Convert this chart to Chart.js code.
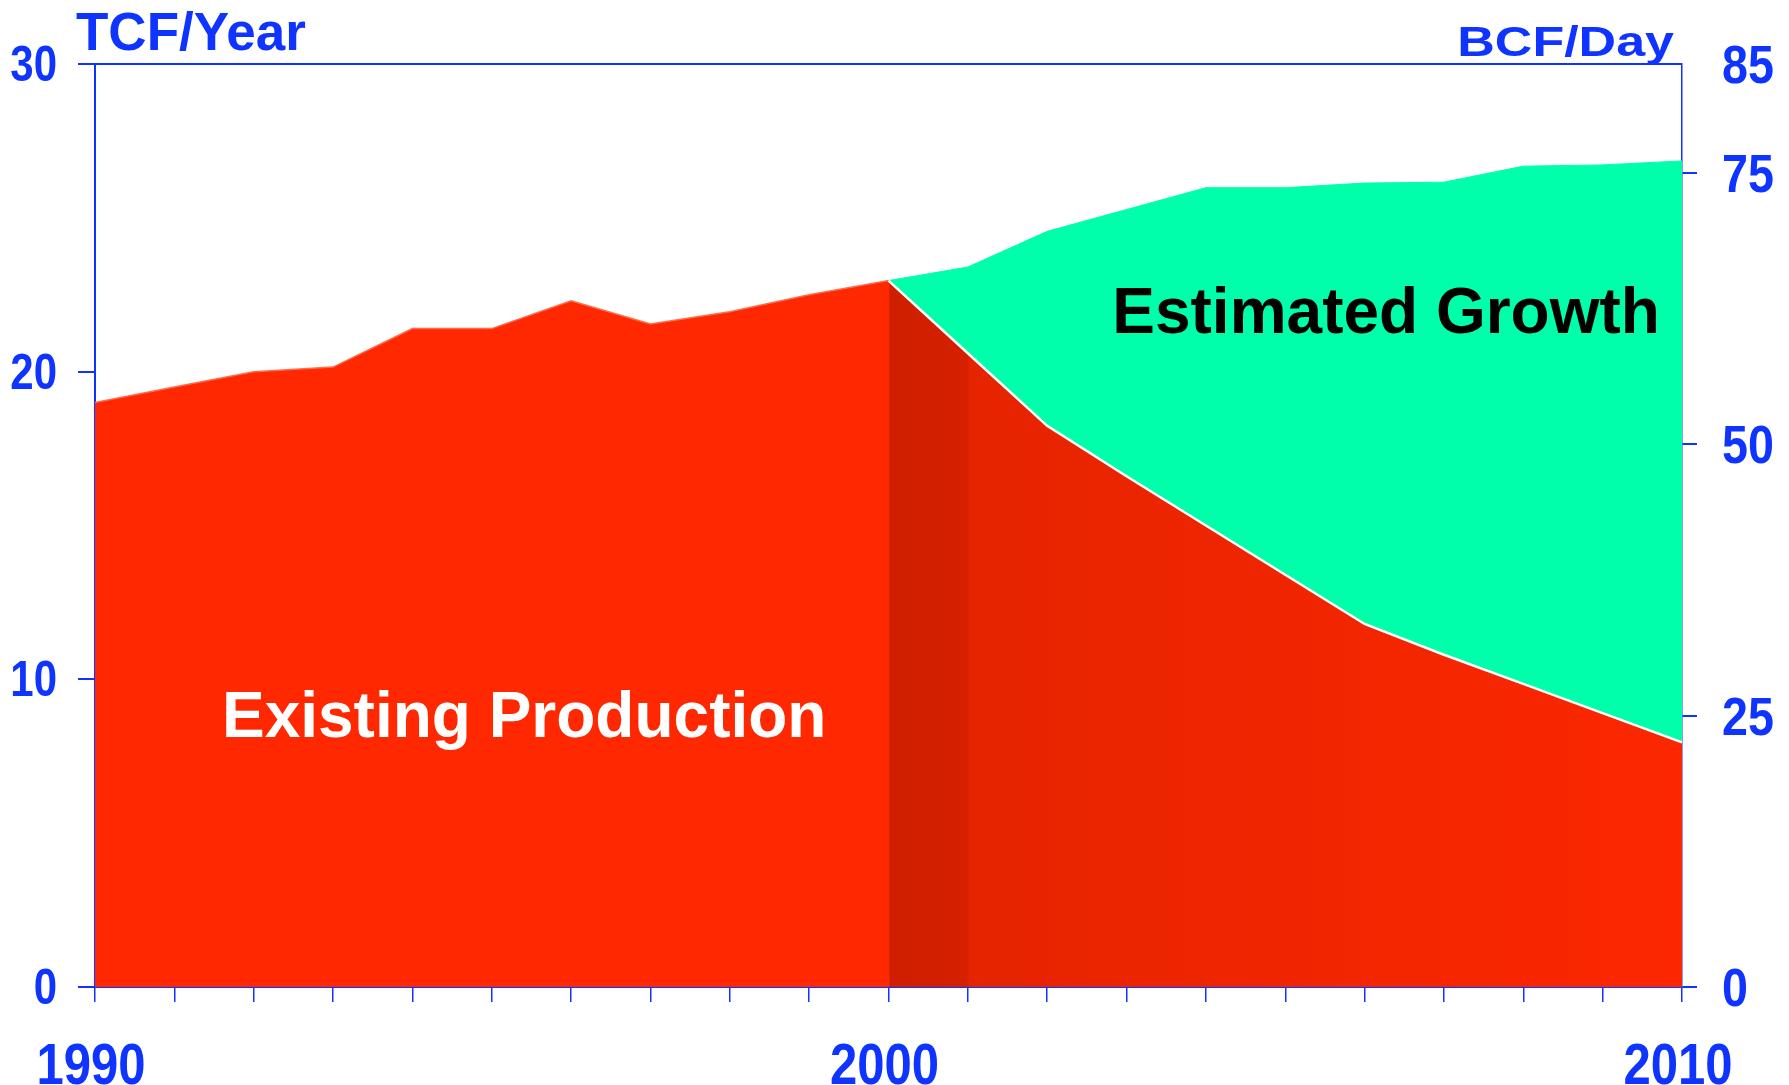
<!DOCTYPE html>
<html>
<head>
    <meta charset="utf-8">
    <script src="https://cdn.jsdelivr.net/npm/chart.js"></script>
    <style>
        html, body { margin: 0; padding: 0; background: #ffffff; overflow: hidden; }
        canvas { display: block; }
    </style>
    <script>
        // years on the x axis, every year gets a tick, only some get a label
        const years = [1990, 1991, 1992, 1993, 1994, 1995, 1996, 1997, 1998, 1999, 2000,
                       2001, 2002, 2003, 2004, 2005, 2006, 2007, 2008, 2009, 2010];
        const yearLabels = [1990, 2000, 2010];

        // TCF/Year
        const existingProduction = [19.0, 19.5, 20.0, 20.15, 21.4, 21.4, 22.3, 21.55, 21.95, 22.5, 22.96,
                                    20.6, 18.24, 16.6, 15.0, 13.4, 11.8, 10.8, 9.85, 8.9, 7.95];
        // existing + estimated growth (top of the green area)
        const totalWithGrowth = [null, null, null, null, null, null, null, null, null, null, 22.96,
                                 23.4, 24.56, 25.27, 25.98, 25.98, 26.13, 26.16, 26.68, 26.72, 26.85];

        const leftTicks = [0, 10, 20, 30];
        const rightTicks = [0, 25, 50, 75, 85];

        const BLUE = '#1034FF';
        const SANS = "'Liberation Sans', Arial, Helvetica, sans-serif";

        window.onload = function () {
            const pts = (arr) => years.map((yr, i) => ({ x: yr, y: arr[i] }));
            // same values, only from 2000 on: the white edge between red and green
            const forecastEdge = years.map((yr, i) => ({ x: yr, y: yr >= 2000 ? existingProduction[i] : null }));

            function redFill(c) {
                const chart = c.chart;
                const area = chart.chartArea;
                if (!area) return '#FF2800';
                const x = chart.scales.x;
                const g = chart.ctx.createLinearGradient(area.left, 0, area.right, 0);
                const p = (v) => (x.getPixelForValue(v) - area.left) / (area.right - area.left);
                g.addColorStop(0, '#FF2800');
                g.addColorStop(p(2000), '#FF2800');
                g.addColorStop(p(2000) + 0.001, '#CF1E00');
                g.addColorStop(p(2001), '#D62000');
                g.addColorStop(p(2001) + 0.001, '#E62400');
                g.addColorStop(1, '#FC2700');
                return g;
            }

            // condensed bold labels (no narrow face installed, so squeeze a bold one)
            function squeezedText(ctx, text, x, y, size, sx, sy, align) {
                ctx.save();
                ctx.translate(x, y);
                ctx.scale(sx, sy);
                ctx.font = 'bold ' + size + 'px ' + SANS;
                ctx.textAlign = align;
                ctx.textBaseline = 'alphabetic';
                ctx.fillText(text, 0, 0);
                ctx.restore();
            }

            const overlay = {
                id: 'overlay',
                afterDraw(chart) {
                    const { ctx, chartArea, scales } = chart;
                    ctx.save();
                    // top frame line
                    ctx.strokeStyle = BLUE;
                    ctx.lineWidth = 2;
                    ctx.beginPath();
                    ctx.moveTo(chartArea.left - 17, chartArea.top);
                    ctx.lineTo(chartArea.right, chartArea.top);
                    ctx.stroke();

                    ctx.fillStyle = BLUE;
                    // tick labels
                    scales.y.ticks.forEach((t) => {
                        squeezedText(ctx, String(t.value), 57, scales.y.getPixelForValue(t.value) + 17, 50, 0.84, 1, 'right');
                    });
                    scales.y2.ticks.forEach((t) => {
                        squeezedText(ctx, String(t.value), 1722, scales.y2.getPixelForValue(t.value) + 19, 53, 0.88, 1, 'left');
                    });
                    scales.x.ticks.forEach((t) => {
                        if (yearLabels.includes(t.value)) {
                            squeezedText(ctx, String(t.value), scales.x.getPixelForValue(t.value) - 4, 1084, 57, 0.86, 1, 'center');
                        }
                    });

                    // unit titles
                    squeezedText(ctx, 'TCF/Year', 76, 50, 53, 1, 1, 'left');
                    squeezedText(ctx, 'BCF/Day', chartArea.right - 8, 56, 52, 1, 0.83, 'right');

                    // area captions
                    ctx.font = 'bold 64px ' + SANS;
                    ctx.textAlign = 'left';
                    ctx.textBaseline = 'alphabetic';
                    ctx.fillStyle = '#FFFFFF';
                    ctx.fillText('Existing Production', scales.x.getPixelForValue(1991.6), scales.y.getPixelForValue(8.12));
                    ctx.fillStyle = '#000000';
                    ctx.fillText('Estimated Growth', scales.x.getPixelForValue(2002.82), scales.y.getPixelForValue(21.25));
                    ctx.restore();
                }
            };

            const config = {
                type: 'line',
                data: {
                    datasets: [{
                        label: 'Forecast edge',
                        data: forecastEdge,
                        fill: false,
                        borderColor: '#FFFFFF',
                        borderWidth: 2.5,
                        pointRadius: 0,
                        tension: 0
                    }, {
                        label: 'Existing Production',
                        data: pts(existingProduction),
                        fill: 'origin',
                        backgroundColor: redFill,
                        borderWidth: 1.5,
                        borderColor: '#FF6A4A',
                        pointRadius: 0,
                        tension: 0
                    }, {
                        label: 'Estimated Growth',
                        data: pts(totalWithGrowth),
                        fill: { target: 1 },
                        backgroundColor: '#00FFAA',
                        borderColor: '#00FFAA',
                        borderWidth: 1,
                        pointRadius: 0,
                        tension: 0
                    }]
                },
                options: {
                    responsive: false,
                    animation: false,
                    devicePixelRatio: 1,
                    layout: { padding: { top: 64, left: 0, right: 0, bottom: 0 } },
                    plugins: {
                        legend: { display: false },
                        tooltip: { enabled: false }
                    },
                    scales: {
                        x: {
                            type: 'linear',
                            min: 1990,
                            max: 2010,
                            afterBuildTicks: (s) => { s.ticks = years.map((v) => ({ value: v })); },
                            afterFit: (s) => { s.height = 98; },
                            ticks: { display: false, autoSkip: false },
                            grid: { drawOnChartArea: false, tickLength: 15, color: BLUE, lineWidth: 1.5 },
                            border: { color: BLUE, width: 2 }
                        },
                        y: {
                            position: 'left',
                            min: 0,
                            max: 30,
                            afterBuildTicks: (s) => { s.ticks = leftTicks.map((v) => ({ value: v })); },
                            afterFit: (s) => { s.width = 95; },
                            ticks: { display: false },
                            grid: { drawOnChartArea: false, tickLength: 17, color: BLUE, lineWidth: 2 },
                            border: { color: BLUE, width: 2 }
                        },
                        y2: {
                            position: 'right',
                            min: 0,
                            max: 85,
                            afterBuildTicks: (s) => { s.ticks = rightTicks.map((v) => ({ value: v })); },
                            afterFit: (s) => { s.width = 107; },
                            ticks: { display: false },
                            grid: {
                                drawOnChartArea: false,
                                tickLength: 15,
                                lineWidth: 2,
                                color: (c) => (c.tick && c.tick.value === 85) ? 'rgba(0,0,0,0)' : BLUE
                            },
                            border: { color: BLUE, width: 1.5 }
                        }
                    }
                },
                plugins: [overlay]
            };

            new Chart(document.getElementById('gasChart'), config);
        };
    </script>
</head>
<body>
    <canvas id="gasChart" width="1789" height="1085"></canvas>
</body>
</html>
